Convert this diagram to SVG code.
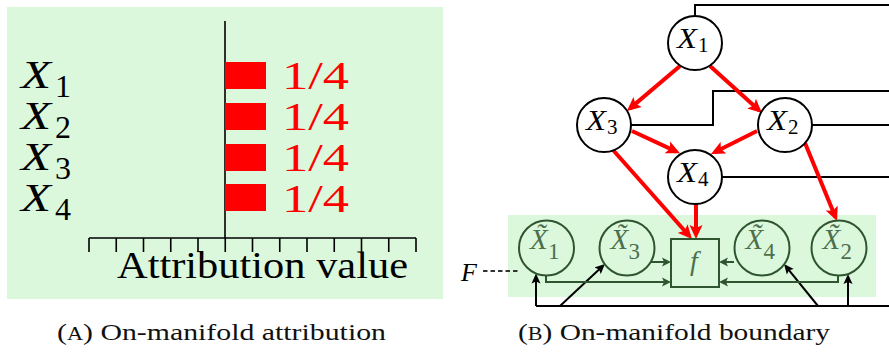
<svg xmlns="http://www.w3.org/2000/svg" width="889" height="353" viewBox="0 0 889 353">
<defs>
<style>
.bg{fill:#dcf8dc}
.ax{stroke:#000;stroke-width:1.6;fill:none}
.bar{fill:#ff0000}
.lbl{font-family:"Liberation Serif","Times New Roman",serif;font-style:italic;fill:#000}
.num{font-family:"Liberation Serif","Times New Roman",serif;fill:#000}
.red{fill:#ff0000;font-family:"Liberation Serif","Times New Roman",serif}
.cap{font-family:"Liberation Serif","Times New Roman",serif;font-size:24px;fill:#111}
.node{fill:#fff;stroke:#000;stroke-width:2}
.gnode{fill:none;stroke:#2f5530;stroke-width:2}
.gtxt{fill:#4d6e4d}
.rl{stroke:#ff0000;stroke-width:4;fill:none;marker-end:url(#rh)}
.bl{stroke:#000;stroke-width:2;fill:none}
.bla{stroke:#000;stroke-width:2;fill:none;marker-end:url(#bh)}
.gl{stroke:#2f5530;stroke-width:2;fill:none;marker-end:url(#gh)}
</style>
<marker id="rh" markerUnits="userSpaceOnUse" markerWidth="16" markerHeight="14" refX="10" refY="7" orient="auto">
<path d="M0,0.5 L14,7 L0,13.5 L3,7 z" fill="#ff0000"/>
</marker>
<marker id="bh" markerUnits="userSpaceOnUse" markerWidth="12" markerHeight="10" refX="7" refY="5" orient="auto">
<path d="M0,0.5 L10,5 L0,9.5 L2,5 z" fill="#000"/>
</marker>
<marker id="gh" markerUnits="userSpaceOnUse" markerWidth="12" markerHeight="10" refX="6" refY="5" orient="auto">
<path d="M0,0.5 L9,5 L0,9.5 L2,5 z" fill="#2f5530"/>
</marker>
</defs>

<!-- Panel A -->
<g id="panelA">
<rect class="bg" x="7" y="7" width="436" height="292"/>
<path class="ax" d="M225,21 V238 M89,238 H416"/>
<path class="ax" d="M89,238 v14 M116.25,238 v14 M143.5,238 v14 M170.75,238 v14 M198,238 v14 M225.25,238 v14 M252.5,238 v14 M279.75,238 v14 M307,238 v14 M334.25,238 v14 M361.5,238 v14 M388.75,238 v14 M416,238 v14"/>
<rect class="bar" x="225" y="62" width="41" height="27"/>
<rect class="bar" x="225" y="103" width="41" height="27"/>
<rect class="bar" x="225" y="144" width="41" height="27"/>
<rect class="bar" x="225" y="184" width="41" height="27"/>
<g font-size="40">
<text class="red" x="282" y="89" textLength="67" lengthAdjust="spacingAndGlyphs">1/4</text>
<text class="red" x="282" y="130" textLength="67" lengthAdjust="spacingAndGlyphs">1/4</text>
<text class="red" x="282" y="171" textLength="67" lengthAdjust="spacingAndGlyphs">1/4</text>
<text class="red" x="282" y="212" textLength="67" lengthAdjust="spacingAndGlyphs">1/4</text>
</g>
<text class="lbl" x="21" y="88" font-size="40" textLength="30" lengthAdjust="spacingAndGlyphs">X</text><text class="num" x="55" y="97" font-size="32">1</text>
<text class="lbl" x="21" y="129" font-size="40" textLength="30" lengthAdjust="spacingAndGlyphs">X</text><text class="num" x="55" y="138" font-size="32">2</text>
<text class="lbl" x="21" y="170" font-size="40" textLength="30" lengthAdjust="spacingAndGlyphs">X</text><text class="num" x="55" y="179" font-size="32">3</text>
<text class="lbl" x="21" y="211" font-size="40" textLength="30" lengthAdjust="spacingAndGlyphs">X</text><text class="num" x="55" y="220" font-size="32">4</text>
<text class="num" x="117" y="278" font-size="38" textLength="291" lengthAdjust="spacingAndGlyphs">Attribution value</text>
</g>

<!-- Panel B background -->
<rect id="manifold" class="bg" x="508" y="215" width="368" height="82"/>

<!-- connectors -->
<g id="connectors">
<path class="bl" d="M695,16 V5 H889"/>
<path class="bl" d="M631,125 H713 V91 H889"/>
<path class="bl" d="M812,125 H889"/>
<path class="bl" d="M722,177 H889"/>
<path class="bl" d="M536,306 H889"/>
<path class="bla" d="M536,306 V276.5"/>
<path class="bla" d="M560,306 L602.8,266"/>
<path class="bla" d="M818,306 L785.9,266.3"/>
<path class="bla" d="M848,306 V277"/>
<path class="rl" d="M680,66 L630,108.4"/>
<path class="rl" d="M710,66 L759,110.3"/>
<path class="rl" d="M632,131 L676.4,151.6"/>
<path class="rl" d="M757,131 L714.6,152.2"/>
<path class="rl" d="M613,150 L689.3,236"/>
<path class="rl" d="M696,204 V235"/>
<path class="rl" d="M805,143 L835.5,217.3"/>
<path class="gl" d="M651,262 H668"/>
<path class="gl" d="M734,262 H722"/>
<path class="gl" d="M546,275.5 V282 H668"/>
<path class="gl" d="M838,275.5 V282 H722"/>
<path d="M483,271 H518" stroke="#333" stroke-width="1.8" stroke-dasharray="4.5,3" fill="none"/>
</g>

<!-- causal graph nodes -->
<g id="X1"><circle class="node" cx="695" cy="43" r="27"/><text class="lbl" x="677" y="48" font-size="29" textLength="20" lengthAdjust="spacingAndGlyphs">X</text><text class="num" x="698" y="52" font-size="21">1</text></g>
<g id="X3"><circle class="node" cx="604" cy="125" r="27"/><text class="lbl" x="586" y="130" font-size="29" textLength="20" lengthAdjust="spacingAndGlyphs">X</text><text class="num" x="607" y="134" font-size="21">3</text></g>
<g id="X2"><circle class="node" cx="785" cy="125" r="27"/><text class="lbl" x="767" y="130" font-size="29" textLength="20" lengthAdjust="spacingAndGlyphs">X</text><text class="num" x="788" y="134" font-size="21">2</text></g>
<g id="X4"><circle class="node" cx="695" cy="177" r="27"/><text class="lbl" x="677" y="182" font-size="29" textLength="20" lengthAdjust="spacingAndGlyphs">X</text><text class="num" x="698" y="186" font-size="21">4</text></g>

<!-- on-manifold nodes -->
<g id="Xt1"><circle class="gnode" cx="546.5" cy="248" r="27.5"/><text class="lbl gtxt" x="530" y="249" font-size="29">X̃</text><text class="num gtxt" x="548" y="259" font-size="23">1</text></g>
<g id="Xt3"><circle class="gnode" cx="627" cy="248" r="27.5"/><text class="lbl gtxt" x="610.5" y="249" font-size="29">X̃</text><text class="num gtxt" x="628.5" y="259" font-size="23">3</text></g>
<g id="Xt4"><circle class="gnode" cx="762" cy="248" r="27.5"/><text class="lbl gtxt" x="745.5" y="249" font-size="29">X̃</text><text class="num gtxt" x="763.5" y="259" font-size="23">4</text></g>
<g id="Xt2"><circle class="gnode" cx="839" cy="248" r="27.5"/><text class="lbl gtxt" x="822.5" y="249" font-size="29">X̃</text><text class="num gtxt" x="840.5" y="259" font-size="23">2</text></g>
<g id="f"><rect x="671" y="239" width="48" height="48" fill="none" stroke="#2f5530" stroke-width="2"/><text class="lbl gtxt" x="694" y="270" font-size="28" text-anchor="middle">f</text></g>
<g id="F"><text class="lbl" x="461" y="281" font-size="26">F</text></g>

<!-- captions -->
<text class="cap" x="57" y="340" textLength="329" lengthAdjust="spacingAndGlyphs">(<tspan font-size="18">A</tspan>) On-manifold attribution</text>
<text class="cap" x="518" y="340" textLength="312" lengthAdjust="spacingAndGlyphs">(<tspan font-size="18">B</tspan>) On-manifold boundary</text>
</svg>
